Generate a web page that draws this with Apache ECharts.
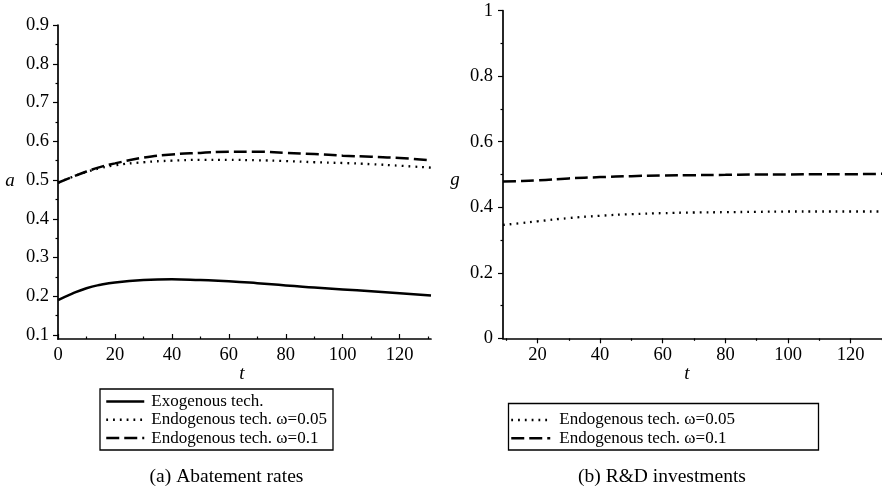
<!DOCTYPE html>
<html>
<head>
<meta charset="utf-8">
<script src="https://cdn.jsdelivr.net/npm/echarts@6/dist/echarts.min.js"></script>
<style>html,body{margin:0;padding:0;background:#fff}#c{width:882px;height:489px}</style>
</head>
<body>
<div id="c"></div>
<script>
// ---- data: panel (a) Abatement rates ----
const tA = [0, 5, 10, 15, 20, 30, 40, 50, 60, 70, 80, 90, 100, 110, 120, 131];
const exoA = [0.190, 0.207, 0.221, 0.230, 0.236, 0.242, 0.244, 0.242, 0.239, 0.234, 0.228, 0.223, 0.218, 0.213, 0.208, 0.202];
const endo005A = [0.493, 0.508, 0.521, 0.531, 0.538, 0.546, 0.550, 0.552, 0.552, 0.551, 0.549, 0.546, 0.544, 0.541, 0.537, 0.532];
const endo01A = [0.493, 0.508, 0.522, 0.534, 0.543, 0.558, 0.566, 0.570, 0.573, 0.573, 0.570, 0.567, 0.563, 0.560, 0.557, 0.551];
// ---- data: panel (b) R&D investments ----
const tB = [9, 15, 20, 30, 40, 50, 60, 70, 80, 90, 100, 110, 120, 130];
const endo005B = [0.346, 0.352, 0.357, 0.367, 0.374, 0.379, 0.382, 0.384, 0.385, 0.386, 0.387, 0.387, 0.387, 0.387];
const endo01B = [0.479, 0.480, 0.482, 0.488, 0.492, 0.495, 0.497, 0.498, 0.499, 0.500, 0.500, 0.501, 0.501, 0.502];
// ---- ticks ----
const xTicksA = [0, 20, 40, 60, 80, 100, 120];
const xMinorA = [10, 30, 50, 70, 90, 110, 130];
const yTicksA = [0.1, 0.2, 0.3, 0.4, 0.5, 0.6, 0.7, 0.8, 0.9];
const yMinorA = [0.15, 0.25, 0.35, 0.45, 0.55, 0.65, 0.75, 0.85];
const xTicksB = [20, 40, 60, 80, 100, 120];
const xMinorB = [10, 30, 50, 70, 90, 110, 130];
const yTicksB = [0, 0.2, 0.4, 0.6, 0.8, 1];
const yMinorB = [0.1, 0.3, 0.5, 0.7, 0.9];
const names = ['Exogenous tech.', 'Endogenous tech. ω=0.05', 'Endogenous tech. ω=0.1'];

const FONT = '"Liberation Serif", "DejaVu Serif", serif';
const zip = (xs, ys) => xs.map((x, i) => [x, ys[i]]);

function mainAxis(grid, min, max, ticks, inside, margin, fmt, isY) {
  return {
    type: 'value', gridIndex: grid, min: min, max: max,
    position: isY ? 'left' : 'bottom',
    splitLine: { show: false },
    axisLine: { show: true, onZero: false, lineStyle: { color: '#000', width: 1.7 } },
    axisTick: { show: true, customValues: ticks, inside: inside, length: 5, lineStyle: { color: '#000', width: 1.2 } },
    axisLabel: { show: true, customValues: ticks, margin: margin, color: '#000', fontFamily: FONT, fontSize: 18.5,
      formatter: fmt, showMinLabel: true, showMaxLabel: true }
  };
}
function minorAxis(grid, min, max, ticks, inside, isY) {
  return {
    type: 'value', gridIndex: grid, min: min, max: max,
    position: isY ? 'left' : 'bottom',
    splitLine: { show: false },
    axisLine: { show: false, onZero: false },
    axisTick: { show: true, customValues: ticks, inside: inside, length: 2.5, lineStyle: { color: '#000', width: 1.2 } },
    axisLabel: { show: false }
  };
}

const solid = { color: '#000', width: 2.5, type: 'solid' };
const dotted = { color: '#000', width: 2.3, type: [1.8, 5], cap: 'butt' };
const dashed = { color: '#000', width: 2.5, type: [13, 5] };
const hiddenSymbol = { color: 'rgba(0,0,0,0)', borderColor: 'rgba(0,0,0,0)', borderWidth: 0, opacity: 0 };

const option = {
  animation: false,
  backgroundColor: '#fff',
  grid: [
    { left: 58, top: 25, width: 373, height: 314 },
    { left: 503, top: 10.7, width: 379, height: 327.6 }
  ],
  xAxis: [
    mainAxis(0, 0, 131, xTicksA, true, 7, v => String(v), false),
    minorAxis(0, 0, 131, xMinorA, true, false),
    mainAxis(1, 9, 130, xTicksB, false, 7, v => String(v), false),
    minorAxis(1, 9, 130, xMinorB, false, false)
  ],
  yAxis: [
    mainAxis(0, 0.09, 0.9, yTicksA, false, 9, v => v.toFixed(1), true),
    minorAxis(0, 0.09, 0.9, yMinorA, false, true),
    mainAxis(1, 0, 1, yTicksB, false, 10, v => (v === 0 || v === 1) ? String(v) : v.toFixed(1), true),
    minorAxis(1, 0, 1, yMinorB, false, true)
  ],
  legend: [
    { data: names, orient: 'vertical', left: 105, top: 392.5, itemWidth: 38, itemHeight: 14, itemGap: 0.3,
      padding: 0, selectedMode: false, itemStyle: hiddenSymbol, lineStyle: { width: 2.5 },
      textStyle: { fontFamily: FONT, fontSize: 17, color: '#000', lineHeight: 18, padding: [0, 0, 0, 2] } },
    { data: [names[1], names[2]], orient: 'vertical', left: 510, top: 411, itemWidth: 39, itemHeight: 14, itemGap: 0.3,
      padding: 0, selectedMode: false, itemStyle: hiddenSymbol, lineStyle: { width: 2.5 },
      textStyle: { fontFamily: FONT, fontSize: 17, color: '#000', lineHeight: 18, padding: [0, 0, 0, 4] } }
  ],
  series: [
    { name: names[0], type: 'line', xAxisIndex: 0, yAxisIndex: 0, data: zip(tA, exoA), smooth: true, symbol: 'none', lineStyle: solid, itemStyle: { color: '#000' } },
    { name: names[1], type: 'line', xAxisIndex: 0, yAxisIndex: 0, data: zip(tA, endo005A), smooth: true, symbol: 'none', lineStyle: dotted, itemStyle: { color: '#000' } },
    { name: names[2], type: 'line', xAxisIndex: 0, yAxisIndex: 0, data: zip(tA, endo01A), smooth: true, symbol: 'none', lineStyle: dashed, itemStyle: { color: '#000' } },
    { name: names[1], type: 'line', xAxisIndex: 2, yAxisIndex: 2, data: zip(tB, endo005B), smooth: true, symbol: 'none', lineStyle: dotted, itemStyle: { color: '#000' } },
    { name: names[2], type: 'line', xAxisIndex: 2, yAxisIndex: 2, data: zip(tB, endo01B), smooth: true, symbol: 'none', lineStyle: dashed, itemStyle: { color: '#000' } }
  ],
  graphic: [
    { type: 'rect', shape: { x: 100, y: 389, width: 233, height: 61 }, style: { fill: 'none', stroke: '#000', lineWidth: 1.3 }, z: 10 },
    { type: 'rect', shape: { x: 508.5, y: 403.5, width: 310, height: 46.5 }, style: { fill: 'none', stroke: '#000', lineWidth: 1.3 }, z: 10 },
    { type: 'text', x: 10, y: 181, style: { text: 'a', font: 'italic 19px ' + FONT, fill: '#000', textAlign: 'center', textVerticalAlign: 'middle' } },
    { type: 'text', x: 455, y: 180, style: { text: 'g', font: 'italic 19px ' + FONT, fill: '#000', textAlign: 'center', textVerticalAlign: 'middle' } },
    { type: 'text', x: 242, y: 374, style: { text: 't', font: 'italic 19px ' + FONT, fill: '#000', textAlign: 'center', textVerticalAlign: 'middle' } },
    { type: 'text', x: 687, y: 374, style: { text: 't', font: 'italic 19px ' + FONT, fill: '#000', textAlign: 'center', textVerticalAlign: 'middle' } },
    { type: 'text', x: 226.5, y: 477, style: { text: '(a) Abatement rates', font: '19.5px ' + FONT, fill: '#000', textAlign: 'center', textVerticalAlign: 'middle' } },
    { type: 'text', x: 662, y: 477, style: { text: '(b) R&D investments', font: '19.5px ' + FONT, fill: '#000', textAlign: 'center', textVerticalAlign: 'middle' } }
  ]
};
const chart = echarts.init(document.getElementById('c'), null, { renderer: 'canvas' });
chart.setOption(option);
</script>
</body>
</html>
